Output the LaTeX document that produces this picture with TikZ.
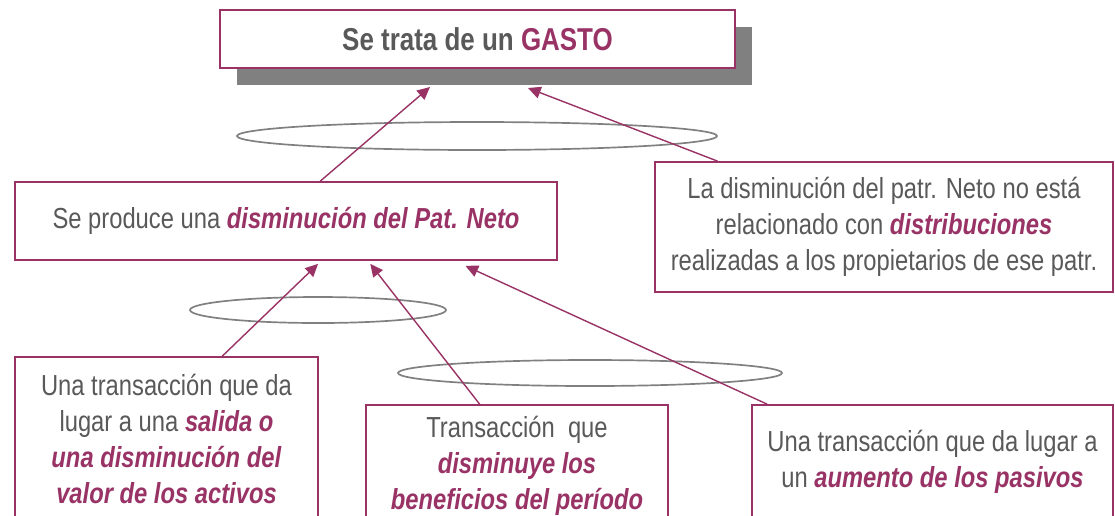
\documentclass[tikz,border=0pt]{standalone}
\usepackage{fontspec}
\setmainfont[FakeStretch=0.82]{Liberation Sans}
\usetikzlibrary{arrows.meta,shadows,calc,positioning}
\definecolor{plum}{HTML}{993366}
\definecolor{txtgray}{HTML}{595959}
\definecolor{ringgray}{HTML}{808080}
\newcommand{\hl}[1]{\textcolor{plum}{\textbf{\textit{#1}}}}

\begin{document}
\begin{tikzpicture}[x=0.025cm,y=-0.025cm,>={Triangle[length=9pt,width=8.5pt]},
  every node/.style={font=\fontsize{20.6}{25.8}\selectfont,text=txtgray},
  box/.style={draw=plum,line width=1.2pt,fill=white,align=center,inner sep=0pt},
  flow/.style={->,draw=plum,line width=1pt},
  ring/.style={draw=ringgray,line width=1.2pt}]
\useasboundingbox (0,0) rectangle (1115,515);
% the rings behind the arrows
\draw[ring] (477,136) ellipse [x radius=240, y radius=14];
\draw[ring] (318,310) ellipse [x radius=128, y radius=13];
\draw[ring] (590,373) ellipse [x radius=192, y radius=13];
% boxes
\node[box,minimum width=12.875cm,minimum height=1.45cm,font=\fontsize{22.5}{27}\selectfont,drop shadow={shadow xshift=0.42cm,shadow yshift=-0.42cm,fill=ringgray,opacity=1}] (gasto) at (477.5,39) {\textbf{Se trata de un \textcolor{plum}{GASTO}}};
\node[box,minimum width=13.55cm,minimum height=1.95cm] (neto) at (286,221) {Se produce una \hl{disminución del Pat. Neto}};
\node[box,minimum width=11.45cm,minimum height=3.25cm] (distrib) at (884,227) {La disminución del patr. Neto no está\\relacionado con \hl{distribuciones}\\realizadas a los propietarios de ese patr.};
\node[box,minimum width=7.575cm,minimum height=4.1cm] (activos) at (166.5,439) {Una transacción que da\\lugar a una \hl{salida o}\\\hl{una disminución del}\\\hl{valor de los activos}};
\node[box,minimum width=7.55cm,minimum height=3.05cm] (benef) at (517,466) {Transacción\ \ que\\\hl{disminuye los}\\\hl{beneficios del período}};
\node[box,minimum width=9.025cm,minimum height=2.825cm] (pasivos) at (932.5,461.5) {Una transacción que da lugar a\\un \hl{aumento de los pasivos}};
% arrow ends under the shadow
\coordinate (g1) at (430,87);
\coordinate (g2) at (528,88);
\draw[flow] ($(neto.north west)!.563!(neto.north east)$) -- (g1);
\draw[flow] ($(distrib.north west)!.138!(distrib.north east)$) -- (g2);
\draw[flow] ($(activos.north west)!.683!(activos.north east)$) -- ($(neto.south west)!.559!(neto.south east)+(0,3)$);
\draw[flow] ($(benef.north west)!.377!(benef.north east)$) -- ($(neto.south west)!.655!(neto.south east)+(0,3)$);
\draw[flow] ($(pasivos.north west)!.044!(pasivos.north east)$) -- ($(neto.south west)!.830!(neto.south east)+(0,5)$);
\end{tikzpicture}
\end{document}
